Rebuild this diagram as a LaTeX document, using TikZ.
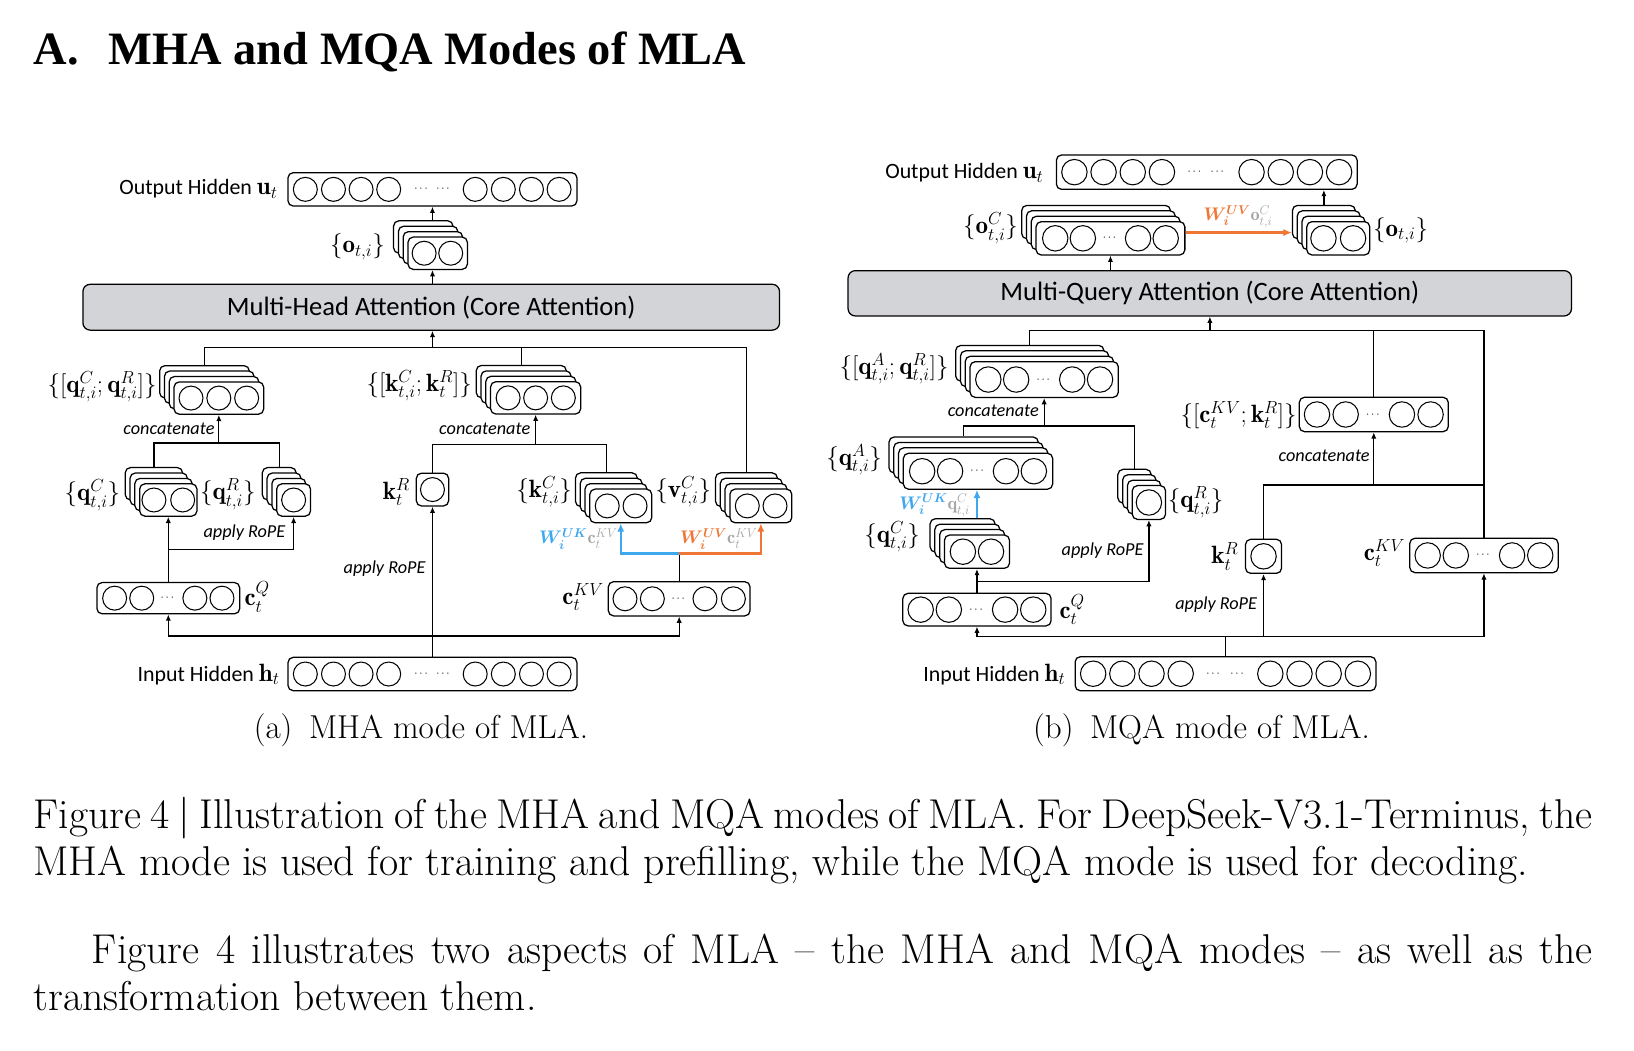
\documentclass[tikz,border=0pt]{standalone}
\usepackage{fix-cm}
\usepackage{amsmath}
\usepackage{bm}
\usepackage{fontspec}
\newfontfamily\diafont{Carlito}
\newfontfamily\headfont{Liberation Serif}
\usetikzlibrary{arrows.meta,positioning}

\definecolor{ukblue}{RGB}{62,168,238}
\definecolor{uvorange}{RGB}{239,118,52}
\definecolor{latgray}{RGB}{165,165,165}
\definecolor{coregray}{RGB}{210,212,216}

\tikzset{
  vec/.style={draw, rounded corners=5pt, fill=white, line width=1.2pt, inner sep=0pt},
  cell/.style={line width=1pt},
  dotsym/.style={inner sep=0pt, font=\fontsize{11}{11}\selectfont},
  core/.style={draw, rounded corners=7pt, fill=coregray, line width=1.2pt, font=\diafont\fontsize{25.5}{28}\selectfont},
  lbl/.style={inner sep=0pt, font=\diafont\fontsize{21}{24}\selectfont},
  mlbl/.style={inner sep=0pt, font=\fontsize{24}{28}\selectfont},
  note/.style={inner sep=0pt, font=\diafont\itshape\fontsize{17.5}{20}\selectfont},
  wlbl/.style={inner sep=0pt, font=\fontsize{17.5}{20}\selectfont},
  captxt/.style={inner sep=0pt, anchor=base west},
  link/.style={line width=1.2pt},
  arr/.style={link, -{Latex[length=6pt,width=5pt]}},
  ukarr/.style={line width=2.2pt, ukblue, -{Latex[length=8pt,width=7pt]}},
  uvarr/.style={line width=2.2pt, uvorange, -{Latex[length=8pt,width=7pt]}}
}

\newcommand{\cellr}{11.5pt}
\newcommand{\bigmath}[1]{{\fontsize{24}{28}\selectfont$#1$}}
% a vector: rounded box with its cells
\newcommand{\cellrow}[6]{% name, x, y, width, height, cell offsets
  \node[vec, minimum width=#4pt, minimum height=#5pt] (#1) at (#2,#3) {};
  \foreach \dx in {#6}
    \draw[cell] ([xshift=\dx pt]#1.center) circle[radius=\cellr];
}
% a vector per head: three copies behind the front one
\newcommand{\cellstack}[6]{%
  \foreach \k in {3,2,1}
    \node[vec, minimum width=#4pt, minimum height=#5pt] (#1\k) at ({#2-4.6*\k},{#3-5.2*\k}) {};
  \cellrow{#1}{#2}{#3}{#4}{#5}{#6}
}

\begin{document}
\begin{tikzpicture}[x=1pt, y=-1pt]
\path[use as bounding box, fill=white] (0,0) rectangle (1568,1008);

% heading
\node[captxt] (head) at (32,62) {\headfont\bfseries\fontsize{44.5}{48}\selectfont A.\hspace{0.4em} MHA and MQA Modes of MLA};

% ---------------- (a) MHA mode ----------------
\cellrow{outA}{415}{181.7}{277.3}{32}{-122,-95,-68.5,-42,41,68,95,121.5}
\node[dotsym] (outAd1) at ([xshift=-10pt]outA.center) {$\cdots$};
\node[dotsym] (outAd2) at ([xshift=11pt]outA.center) {$\cdots$};
\node[lbl, anchor=east] (outAl) at (266.5,181) {Output Hidden \bigmath{\mathbf{u}_t}};

\cellstack{oA}{420}{243}{57}{31}{-13,12.5}
\node[mlbl, anchor=east] (oAl) at (369.5,237) {$\{\mathbf{o}_{t,i}\}$};

\node[core, minimum width=668.5pt, minimum height=44pt] (mha) at (413.8,294.8) {Multi-Head Attention (Core Attention)};

\coordinate (spA) at (415,0);
\draw[arr] (oA3.north -| spA) -- (outA.south -| spA);
\draw[arr] (mha.north -| spA) -- (oA.south -| spA);
\coordinate (busA) at (415,333.5);
\draw[arr] (busA) -- (mha.south -| busA);

% queries
\cellstack{qcatA}{210}{382}{86}{31}{-26.7,0,26.7}
\node[mlbl, anchor=east] (qcatAl) at (150.5,371) {$\{[\mathbf{q}^{C}_{t,i};\mathbf{q}^{R}_{t,i}]\}$};
\cellstack{qCA}{161.5}{479.8}{55}{31}{-13.8,13.8}
\node[mlbl, anchor=east] (qCAl) at (115.5,475) {$\{\mathbf{q}^{C}_{t,i}\}$};
\cellstack{qRA}{281.75}{479.8}{32.5}{31}{0}
\node[mlbl, anchor=east] (qRAl) at (245.5,474) {$\{\mathbf{q}^{R}_{t,i}\}$};
\cellrow{cQA}{161.5}{574}{137}{30}{-51.5,-25.5,25.5,51.5}
\node[dotsym] (cQAd) at (cQA.center) {$\cdots$};
\node[mlbl, anchor=west] (cQAl) at (234.5,573) {$\mathbf{c}^{Q}_t$};

\coordinate (qjoinA) at (210,425);
\draw[link] (qCA3.north) |- (qjoinA) -| (qRA3.north);
\draw[arr] (qjoinA) -- (qcatA.south);
\node[note, anchor=east] (catqA) at (206,411) {concatenate};
\draw[arr] (cQA.north) -- (qCA.south);
\coordinate (qbrA) at (161.5,527);
\draw[arr] (qbrA) -| (qRA.south);
\node[note, anchor=east] (ropeqA) at (274,511) {apply RoPE};

% keys and values
\cellstack{kcatA}{514}{381.8}{86.4}{31}{-26.4,0,26.6}
\node[mlbl, anchor=east] (kcatAl) at (453,370) {$\{[\mathbf{k}^{C}_{t,i};\mathbf{k}^{R}_{t}]\}$};
\cellrow{kRA}{415}{469.8}{31}{31.5}{0}
\node[mlbl, anchor=east] (kRAl) at (393.5,472) {$\mathbf{k}^{R}_t$};
\cellstack{kCA}{595.7}{485.5}{59.4}{32.3}{-13,13.7}
\node[mlbl, anchor=east] (kCAl) at (549,472) {$\{\mathbf{k}^{C}_{t,i}\}$};
\cellstack{vA}{730.1}{485.5}{59.4}{32.3}{-13,13.6}
\node[mlbl, anchor=east] (vAl) at (682.5,472) {$\{\mathbf{v}^{C}_{t,i}\}$};
\coordinate (kjoinA) at (514,426.4);
\draw[link] (kRA.north) |- (kjoinA) -| (kCA3.north);
\draw[arr] (kjoinA) -- (kcatA.south);
\node[note, anchor=east] (catkA) at (509,411) {concatenate};

\draw[link] (qcatA3.north) |- (busA) -| (vA3.north);
\draw[link] (kcatA3.north) -- (kcatA3.north |- busA);

% latent kv
\cellrow{cKVA}{651.75}{574.6}{136}{32.8}{-52,-25.75,24.75,52}
\node[dotsym] (cKVAd) at (cKVA.center) {$\cdots$};
\node[mlbl, anchor=east] (cKVAl) at (579.5,573) {$\mathbf{c}^{KV}_t$};
\coordinate (kvsA) at (651.75,531);
\draw[link] (cKVA.north) -- (kvsA);
\draw[ukarr] (kvsA) -| (kCA.south);
\draw[uvarr] (kvsA) -| (vA.south);
\node[wlbl, anchor=east] (ukA) at (593,517) {$\color{ukblue}\bm{W}^{\bm{UK}}_{\bm{i}}\color{latgray}\mathbf{c}^{KV}_t$};
\node[wlbl, anchor=east] (uvA) at (727,517) {$\color{uvorange}\bm{W}^{\bm{UV}}_{\bm{i}}\color{latgray}\mathbf{c}^{KV}_t$};

% input
\cellrow{inA}{415}{646.8}{277.3}{32}{-122,-95,-68.5,-42,41,68,95,121.5}
\node[dotsym] (inAd1) at ([xshift=-10pt]inA.center) {$\cdots$};
\node[dotsym] (inAd2) at ([xshift=11pt]inA.center) {$\cdots$};
\node[lbl, anchor=east] (inAl) at (268.5,647) {Input Hidden \bigmath{\mathbf{h}_t}};
\coordinate (botA) at (415,610.3);
\draw[arr] (inA.north) -- (kRA.south);
\draw[arr] (botA) -| (cQA.south);
\draw[arr] (botA) -| (cKVA.south);
\node[note, anchor=east] (ropekA) at (408.5,545.5) {apply RoPE};

\node[captxt, anchor=base] (subA) at (403.9,708.5) {\fontsize{31.8}{34}\selectfont (a)\enspace MHA mode of MLA.};

% ---------------- (b) MQA mode ----------------
\renewcommand{\cellr}{12.2pt}
\cellrow{outB}{1158}{165.2}{288.6}{33}{-127,-99,-71,-43,43,71,99,127}
\node[dotsym] (outBd1) at ([xshift=-11pt]outB.center) {$\cdots$};
\node[dotsym] (outBd2) at ([xshift=11pt]outB.center) {$\cdots$};
\node[lbl, anchor=east] (outBl) at (1001.5,166) {Output Hidden \bigmath{\mathbf{u}_t}};

\cellstack{oCB}{1065.6}{228.7}{142.8}{32}{-53,-26.5,26.5,53}
\node[dotsym] (oCBd) at (oCB.center) {$\cdots$};
\node[mlbl, anchor=east] (oCBl) at (977,219) {$\{\mathbf{o}^{C}_{t,i}\}$};
\cellstack{oB}{1284.2}{228.7}{60.4}{32}{-14.2,14.2}
\node[mlbl, anchor=west] (oBl) at (1317.5,221) {$\{\mathbf{o}_{t,i}\}$};
\draw[arr] (oB3.north) -- (outB.south -| oB3.north);
\draw[uvarr] ([yshift=5.5pt]oCB.east) -- ([yshift=5.5pt]oCB.east -| oB3.west);
\node[wlbl] (uvB) at (1188,208) {$\color{uvorange}\bm{W}^{\bm{UV}}_{\bm{i}}\color{latgray}\mathbf{o}^{C}_{t,i}$};

\node[core, minimum width=694.2pt, minimum height=43.5pt] (mqa) at (1160.9,281.45) {Multi-Query Attention (Core Attention)};
\draw[arr] (mqa.north -| oCB.south) -- (oCB.south);
\coordinate (busB) at (1161,317);
\draw[arr] (busB) -- (mqa.south -| busB);

% queries
\cellstack{qcatB}{1002}{364.2}{142.3}{34.3}{-53.6,-26.9,26.9,53.6}
\node[dotsym] (qcatBd) at (qcatB.center) {$\cdots$};
\node[mlbl, anchor=east] (qcatBl) at (910.5,354) {$\{[\mathbf{q}^{A}_{t,i};\mathbf{q}^{R}_{t,i}]\}$};
\cellstack{qAB}{938.5}{452.2}{143.3}{34.5}{-53.6,-26.8,26.8,53.6}
\node[dotsym] (qABd) at (qAB.center) {$\cdots$};
\node[mlbl, anchor=east] (qABl) at (846.5,441) {$\{\mathbf{q}^{A}_{t,i}\}$};
\cellstack{qCB}{937.5}{529.4}{62.4}{32}{-13.5,13.5}
\node[mlbl, anchor=east] (qCBl) at (883,515) {$\{\mathbf{q}^{C}_{t,i}\}$};
\cellstack{qRB}{1102.5}{482.2}{32}{32.4}{0}
\node[mlbl, anchor=west] (qRBl) at (1120.5,482) {$\{\mathbf{q}^{R}_{t,i}\}$};
\cellrow{cQB}{937.5}{585}{142.3}{31.3}{-54,-27,27,54}
\node[dotsym] (cQBd) at (cQB.center) {$\cdots$};
\node[mlbl, anchor=west] (cQBl) at (1016.5,585) {$\mathbf{c}^{Q}_t$};

\coordinate (qjoinB) at (1002,408.8);
\draw[link] (qAB3.north) |- (qjoinB) -| (qRB3.north);
\draw[arr] (qjoinB) -- (qcatB.south);
\node[note, anchor=east] (catqB) at (997,394) {concatenate};
\draw[ukarr] (qCB3.north -| qCB.north) -- (qAB.south -| qCB.north);
\node[wlbl, anchor=east] (ukB) at (931,485) {$\color{ukblue}\bm{W}^{\bm{UK}}_{\bm{i}}\color{latgray}\mathbf{q}^{C}_{t,i}$};
\draw[arr] (cQB.north) -- (qCB.south);
\coordinate (qbrB) at (937.5,558.2);
\draw[arr] (qbrB) -| (qRB.south);
\node[note, anchor=east] (ropeqB) at (1097.5,528) {apply RoPE};

% latent kv and rope key
\cellrow{ckcatB}{1318.3}{397.75}{143}{33}{-54.5,-27,27,54.5}
\node[dotsym] (ckcatBd) at (ckcatB.center) {$\cdots$};
\node[mlbl, anchor=east] (ckcatBl) at (1244.5,398) {$\{[\mathbf{c}^{KV}_t;\mathbf{k}^{R}_t]\}$};
\cellrow{kRB}{1212.5}{533.85}{34.6}{32.7}{0}
\node[mlbl, anchor=east] (kRBl) at (1188.5,534) {$\mathbf{k}^{R}_t$};
\cellrow{cKVB}{1424}{533}{142.4}{33}{-54,-27,27,54}
\node[dotsym] (cKVBd) at (cKVB.center) {$\cdots$};
\node[mlbl, anchor=east] (cKVBl) at (1348.5,531) {$\mathbf{c}^{KV}_t$};
\coordinate (kjoinB) at (1318.3,465.4);
\draw[link] (kRB.north) |- (kjoinB) -- (kjoinB -| cKVB.north);
\draw[arr] (kjoinB) -- (ckcatB.south);
\node[note, anchor=east] (catkB) at (1314.5,437.6) {concatenate};
\draw[link] (qcatB3.north) |- (busB) -| (cKVB.north);
\draw[link] (ckcatB.north) -- (ckcatB.north |- busB);

% input
\cellrow{inB}{1176}{646.5}{288.6}{32.7}{-127,-99,-71,-43,43,71,99,127}
\node[dotsym] (inBd1) at ([xshift=-11pt]inB.center) {$\cdots$};
\node[dotsym] (inBd2) at ([xshift=12pt]inB.center) {$\cdots$};
\node[lbl, anchor=east] (inBl) at (1022.5,647) {Input Hidden \bigmath{\mathbf{h}_t}};
\coordinate (botB) at (1176,611);
\draw[link] (inB.north) -- (botB);
\draw[arr] (botB) -| (cQB.south);
\draw[arr] (botB) -| (kRB.south);
\draw[arr] (botB) -| (cKVB.south);
\node[note, anchor=east] (ropekB) at (1206.5,580.5) {apply RoPE};

\node[captxt, anchor=base] (subB) at (1153,708.5) {\fontsize{31.8}{34}\selectfont (b)\enspace MQA mode of MLA.};

% caption and text below
\node[captxt] (cap1) at (32,795) {\fontsize{40}{44}\selectfont\frenchspacing\makebox[1496pt][s]{Figure 4 \textbar{} Illustration of the MHA and MQA modes of MLA. For DeepSeek-V3.1-Terminus, the}};
\node[captxt] (cap2) at (32,840) {\fontsize{40}{44}\selectfont\frenchspacing MHA mode is used for training and prefilling, while the MQA mode is used for decoding.};
\node[captxt] (par1) at (88,925) {\fontsize{40}{44}\selectfont\makebox[1440pt][s]{Figure 4 illustrates two aspects of MLA \textendash{} the MHA and MQA modes \textendash{} as well as the}};
\node[captxt] (par2) at (32,970) {\fontsize{40}{44}\selectfont transformation between them.};
\end{tikzpicture}
\end{document}
